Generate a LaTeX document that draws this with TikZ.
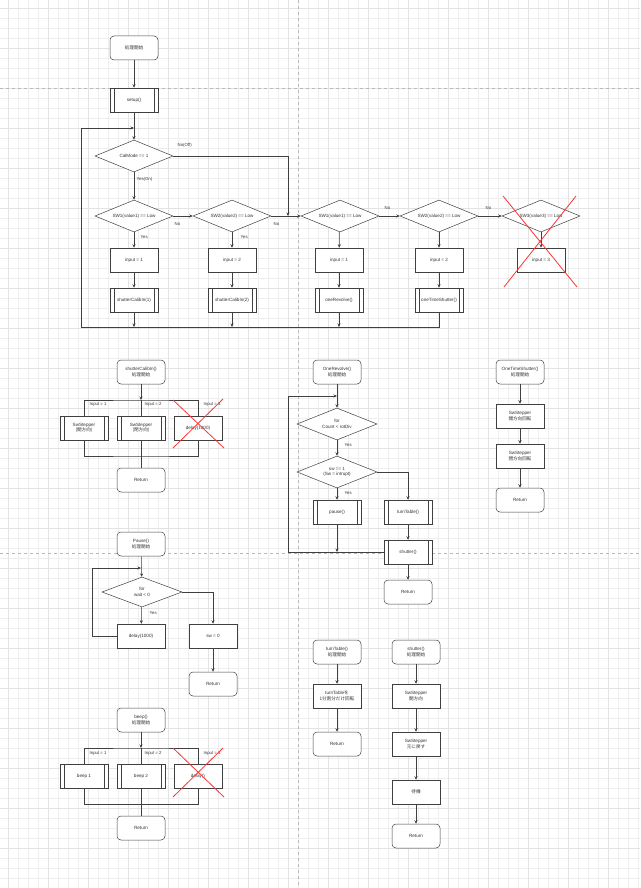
\documentclass[tikz,border=0pt]{standalone}
\usepackage{fontspec}
\setmainfont{Liberation Sans}
\newfontfamily\jp{Noto Sans CJK JP}
\usetikzlibrary{shapes.geometric, arrows.meta, positioning, calc}

\begin{document}
\begin{tikzpicture}[
    x=1pt, y=-1pt,
    font=\fontsize{4.6}{5.6}\selectfont,
    every node/.style={text=black!80},
    line/.style={draw=black!75, line width=0.5pt},
    arrow/.style={line, -{Stealth[length=3.5pt,width=3pt]}},
    term/.style={line, fill=white, rectangle, rounded corners=4pt,
                 minimum width=48pt, minimum height=24pt, align=center,
                 inner sep=1pt},
    proc/.style={line, fill=white, rectangle, minimum width=48pt,
                 minimum height=24pt, align=center, inner sep=1pt},
    subr/.style={proc, path picture={
        \draw[black!75, line width=0.5pt]
          ([xshift=4pt]path picture bounding box.north west) --
          ([xshift=4pt]path picture bounding box.south west)
          ([xshift=-4pt]path picture bounding box.north east) --
          ([xshift=-4pt]path picture bounding box.south east);}},
    cond/.style={line, fill=white, diamond, aspect=2.5, minimum width=78pt,
                 minimum height=32pt, inner sep=0pt, align=center},
    lbl/.style={font=\fontsize{4.3}{5}\selectfont, inner sep=0.5pt,
                anchor=west},
    cross/.style={draw=red!80, line width=0.8pt},
    gridl/.style={draw=gray!13, line width=0.4pt},
    gridm/.style={draw=gray!22, line width=0.4pt},
    sheet/.style={draw=gray!55, line width=0.5pt, dashed},
]
\useasboundingbox (0,0) rectangle (640,888);

% ── Background grid and page breaks ──
\fill[white] (0,0) rectangle (640,888);
\foreach \gx in {8,18,...,638} \draw[gridl] (\gx,0) -- (\gx,888);
\foreach \gy in {8,18,...,888} \draw[gridl] (0,\gy) -- (640,\gy);
\foreach \gx in {8,48,...,638} \draw[gridm] (\gx,0) -- (\gx,888);
\foreach \gy in {8,48,...,888} \draw[gridm] (0,\gy) -- (640,\gy);
\draw[sheet] (298,0) -- (298,888);
\draw[sheet] (0,88) -- (640,88);
\draw[sheet] (0,553) -- (640,553);

% ── Main loop ──
\node[term] (start) at (134,48) {\jp 処理開始};
\node[subr] (setup) at (134,100) {setup()};
\node[cond] (cal) at (134,156) {CalMode == 1};
\node[cond] (sw1) at (134,216) {SW1(value1) == Low};
\node[cond] (sw2) at (232,216) {SW2(value2) == Low};
\node[cond] (swr1) at (340,216) {SW1(value1) == Low};
\node[cond] (swr2) at (439,216) {SW2(value2) == Low};
\node[cond] (sw3) at (541,216) {SW3(value3) == Low};
\node[proc] (in1) at (134,260) {input  = 1};
\node[proc] (in2) at (232,260) {input  = 2};
\node[proc] (inr1) at (339,260) {input  = 1};
\node[proc] (inr2) at (439,260) {input  = 2};
\node[proc] (in3) at (541,260) {input  = 3};
\node[subr] (sc1) at (134,300) {shutterCalibIn(1)};
\node[subr] (sc2) at (232,300) {shutterCalibIn(2)};
\node[subr] (orv) at (339,300) {oneRevolve()};
\node[subr] (ots) at (439,300) {oneTimeShutter()};

\coordinate (jn) at (134,128);
\coordinate (bl) at (81,327);
\coordinate (noj) at (288,216);

\draw[arrow] (start) -- (setup);
\draw[arrow] (setup) -- (cal);
\draw[arrow] (cal) -- (sw1);
\draw[arrow] (cal.east) -| (noj);
\draw[arrow] (sw1.east) -- (sw2.west);
\draw[arrow] (sw2.east) -- (swr1.west);
\draw[arrow] (swr1.east) -- (swr2.west);
\draw[arrow] (swr2.east) -- (sw3.west);
\draw[arrow] (sw1) -- (in1);
\draw[arrow] (sw2) -- (in2);
\draw[arrow] (swr1) -- (inr1);
\draw[arrow] (swr2) -- (inr2);
\draw[arrow] (sw3) -- (in3);
\draw[arrow] (in1) -- (sc1);
\draw[arrow] (in2) -- (sc2);
\draw[arrow] (inr1) -- (orv);
\draw[arrow] (inr2) -- (ots);
\draw[arrow] (sc1) -- (sc1 |- bl);
\draw[arrow] (sc2) -- (sc2 |- bl);
\draw[arrow] (orv) -- (orv |- bl);
\draw[arrow] (ots) |- (bl) |- (jn);

\node[lbl] at (177,145) {No(Off)};
\node[lbl] at (136,179) {Yes(On)};
\node[lbl] at (140,237) {Yes};
\node[lbl] at (240,237) {Yes};
\node[lbl] at (174,224) {No};
\node[lbl] at (273,224) {No};
\node[lbl] at (384,208) {No};
\node[lbl] at (485,208) {No};

\draw[cross] (503,196) -- (577,287);
\draw[cross] (576,196) -- (504,287);

% ── shutterCalibIn() ──
\node[term] (scs) at (141,372) {shutterCalibIn()\\{\jp 処理開始}};
\node[subr] (ca1) at (84,428) {SwStepper\\{\jp (開方向)}};
\node[subr] (ca2) at (141,428) {SwStepper\\{\jp (閉方向)}};
\node[proc] (ca3) at (198,428) {delay(1000)};
\node[term] (scret) at (141,480) {Return};
\coordinate (scT) at (141,400);
\coordinate (scB) at (141,456);
\draw[arrow] (scs) -- (scT);
\draw[line] (ca1.north) |- (scT) -| (ca3.north);
\draw[line] (scT) -- (ca2);
\draw[line] (ca1.south) |- (scB) -| (ca3.south);
\draw[line] (ca2) -- (scret);
\node[lbl] at (89,404) {Input = 1};
\node[lbl] at (144,404) {Input = 2};
\node[lbl] at (203,404) {Input = 3};
\draw[cross] (173,400) -- (224,448);
\draw[cross] (223,399) -- (173,448);

% ── OneRevolve() ──
\node[term] (ors) at (337,372) {OneRevolve()\\{\jp 処理開始}};
\node[cond, minimum width=80pt] (for1) at (337,424) {for\\Count < rotDiv};
\node[cond, minimum width=80pt] (swq) at (337,472) {sw == 1\\(Sw = intrupt)};
\node[subr] (pause) at (337,512) {pause()};
\node[subr] (turn) at (408,512) {turnTable()};
\node[subr] (shut) at (408,552) {shutter()};
\node[term] (orret) at (408,592) {Return};
\coordinate (orJ) at (337,396);
\coordinate (orL) at (288,396);
\draw[arrow] (ors) -- (for1);
\draw[arrow] (for1) -- (swq);
\draw[arrow] (swq) -- (pause);
\draw[arrow] (swq.east) -| (turn);
\draw[arrow] (turn) -- (shut);
\draw[arrow] (shut) -- (orret);
\draw[arrow] (pause) -- (pause |- shut);
\draw[arrow] (shut.west) -| (orL) -- (orJ);
\node[lbl] at (344,445) {Yes};
\node[lbl] at (344,493) {Yes};

% ── OneTimeShutter() ──
\node[term] (otss) at (520,372) {OneTimeShutter()\\{\jp 処理開始}};
\node[proc] (ot1) at (520,416) {SwStepper\\{\jp 開方向回転}};
\node[proc] (ot2) at (520,456) {SwStepper\\{\jp 閉方向回転}};
\node[term] (otret) at (520,500) {Return};
\draw[arrow] (otss) -- (ot1);
\draw[arrow] (ot1) -- (ot2);
\draw[arrow] (ot2) -- (otret);

% ── Pause() ──
\node[term] (ps) at (141,544) {Pause()\\{\jp 処理開始}};
\node[cond, minimum width=80pt, minimum height=30pt] (wfor) at (142,592)
  {for\\wait < 0};
\node[proc] (dly) at (141,636) {delay(1000)};
\node[proc] (sw0) at (213,636) {sw = 0};
\node[term] (pret) at (213,684) {Return};
\coordinate (psJ) at (141,568);
\coordinate (psL) at (92,568);
\draw[arrow] (ps) -- (wfor);
\draw[arrow] (wfor) -- (dly);
\draw[arrow] (wfor.east) -| (sw0);
\draw[arrow] (sw0) -- (pret);
\draw[arrow] (dly.west) -| (psL) -- (psJ);
\node[lbl] at (149,613) {Yes};

% ── beep() ──
\node[term] (bps) at (141,720) {beep()\\{\jp 処理開始}};
\node[subr] (bp1) at (84,776) {beep 1};
\node[subr] (bp2) at (141,776) {beep 2};
\node[proc] (bp3) at (198,776) {delay()};
\node[term] (bret) at (141,828) {Return};
\coordinate (bpT) at (141,748);
\coordinate (bpB) at (141,804);
\draw[arrow] (bps) -- (bpT);
\draw[line] (bp1.north) |- (bpT) -| (bp3.north);
\draw[line] (bpT) -- (bp2);
\draw[line] (bp1.south) |- (bpB) -| (bp3.south);
\draw[line] (bp2) -- (bret);
\node[lbl] at (89,753) {Input = 1};
\node[lbl] at (144,753) {Input = 2};
\node[lbl] at (203,753) {Input = 3};
\draw[cross] (173,748) -- (224,797);
\draw[cross] (223,748) -- (173,797);

% ── turnTable() ──
\node[term] (tts) at (337,652) {turnTable()\\{\jp 処理開始}};
\node[proc] (tt1) at (337,696) {turnTable{\jp を}\\{\jp 1分割分だけ回転}};
\node[term] (ttret) at (337,744) {Return};
\draw[arrow] (tts) -- (tt1);
\draw[arrow] (tt1) -- (ttret);

% ── shutter() ──
\node[term] (shs) at (416,652) {shutter()\\{\jp 処理開始}};
\node[proc] (sh1) at (416,696) {SwStepper\\{\jp 開方向}};
\node[proc] (sh2) at (416,744) {SwStepper\\{\jp 元に戻す}};
\node[proc] (sh3) at (416,792) {\jp 待機};
\node[term] (shret) at (416,836) {Return};
\draw[arrow] (shs) -- (sh1);
\draw[arrow] (sh1) -- (sh2);
\draw[arrow] (sh2) -- (sh3);
\draw[arrow] (sh3) -- (shret);

\end{tikzpicture}
\end{document}
